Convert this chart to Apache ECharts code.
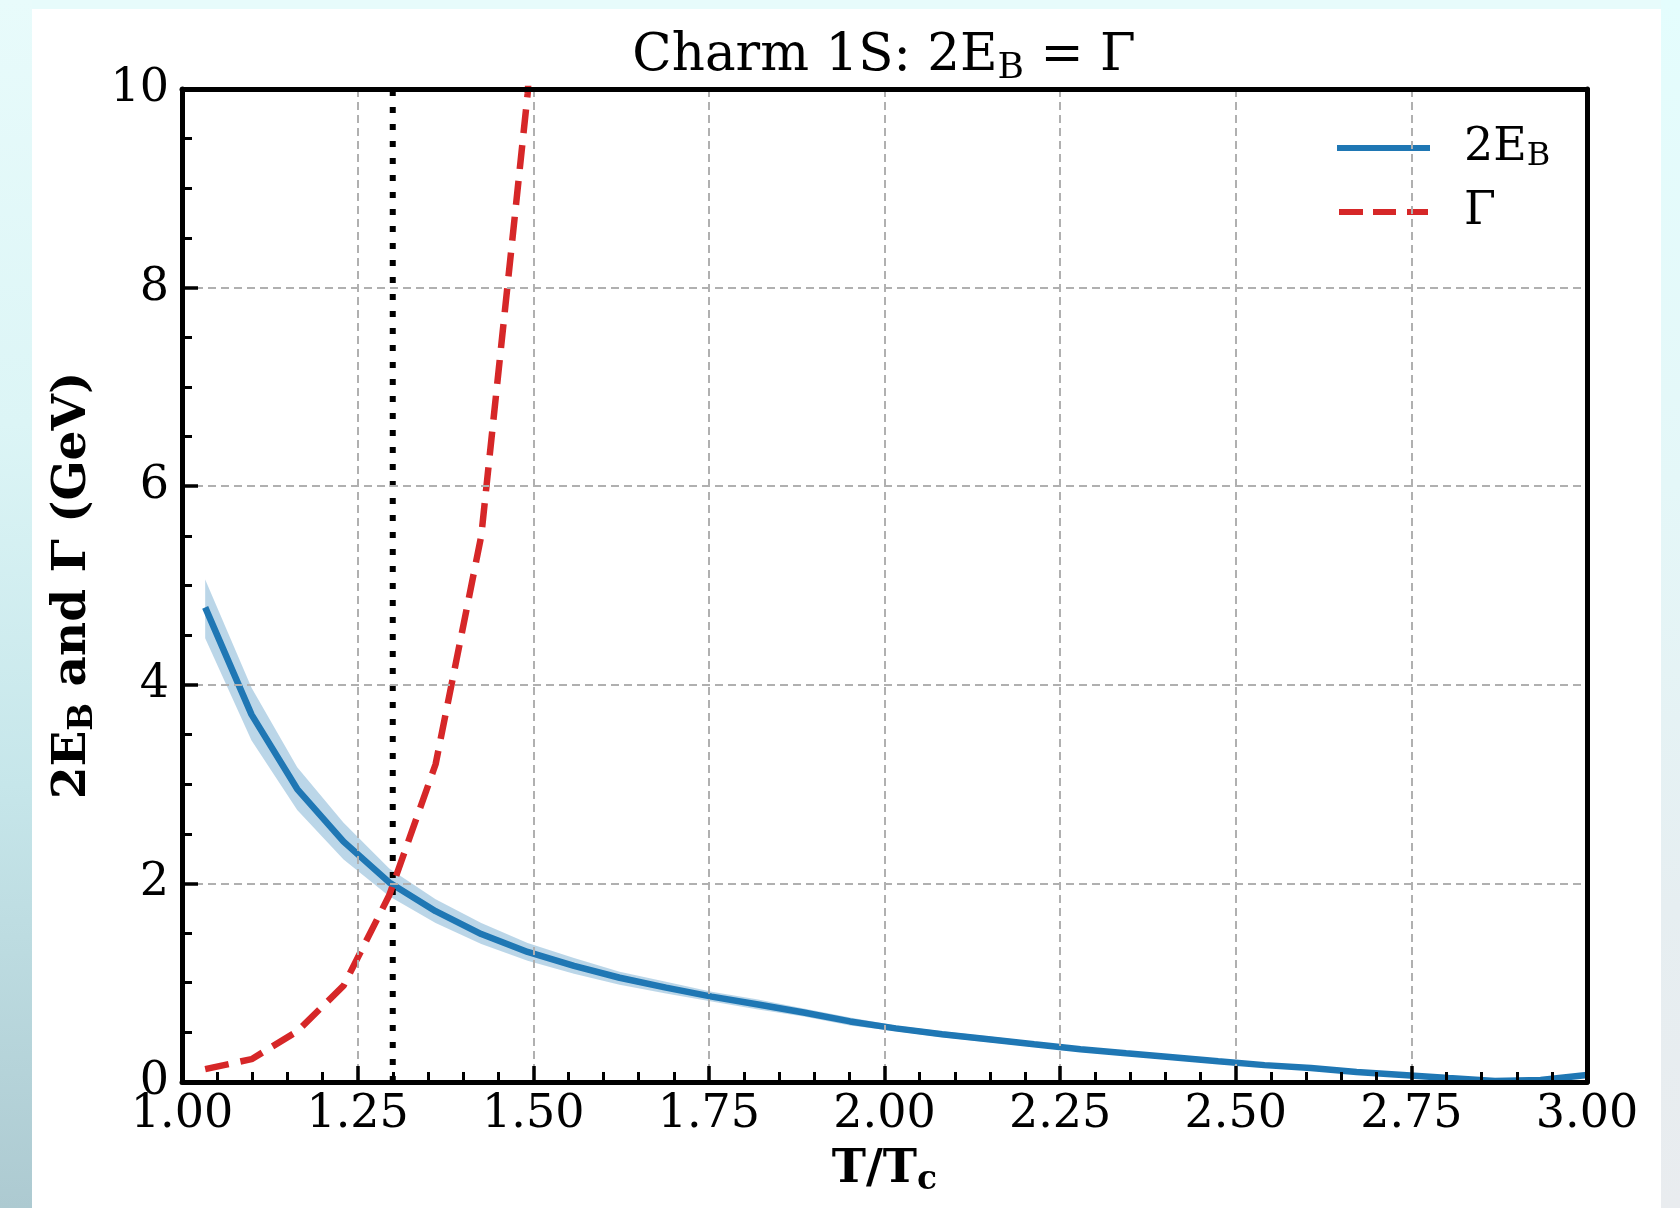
<!DOCTYPE html>
<html>
<head>
<meta charset="utf-8">
<script src="https://cdn.jsdelivr.net/npm/echarts@6/dist/echarts.min.js"></script>
<style>
  html, body { margin: 0; padding: 0; width: 1680px; height: 1208px; overflow: hidden; }
  body { background: #e7fbfb; position: relative; }
  #leftStrip { position: absolute; left: 0; top: 0; width: 32px; height: 1208px;
    background: linear-gradient(to bottom, #e8fbfb 0%, #dcf5f6 35%, #c6e6ea 65%, #adcad1 100%); }
  #rightStrip { position: absolute; left: 1661px; top: 0; width: 19px; height: 1208px;
    background: linear-gradient(to bottom, #e4fdfd 0%, #e4f7f8 40%, #e6eef1 75%, #e9ecef 100%); }
  #card { position: absolute; left: 32px; top: 9px; width: 1629px; height: 1199px; background: #ffffff; }
  #chart { position: absolute; left: 0; top: 0; width: 1680px; height: 1208px; }
</style>
</head>
<body>
<div id="leftStrip"></div>
<div id="rightStrip"></div>
<div id="card"></div>
<div id="chart"></div>
<script>
// ---- data ----
const tValues = [1.033, 1.099, 1.164, 1.230, 1.295, 1.361, 1.426, 1.492, 1.558, 1.623,
                 1.689, 1.754, 1.820, 1.885, 1.951, 2.016, 2.082, 2.148, 2.213, 2.279,
                 2.344, 2.410, 2.475, 2.541, 2.607, 2.672, 2.738, 2.803, 2.869, 2.934, 3.000];
const twoEB = [4.78, 3.70, 2.95, 2.42, 2.01, 1.72, 1.49, 1.31, 1.17, 1.05,
               0.95, 0.86, 0.78, 0.70, 0.61, 0.54, 0.48, 0.43, 0.38, 0.33,
               0.29, 0.25, 0.21, 0.17, 0.14, 0.10, 0.07, 0.04, 0.01, 0.02, 0.07];
const twoEBLower = [4.47, 3.44, 2.74, 2.24, 1.87, 1.60, 1.39, 1.22, 1.09, 0.98,
                    0.89, 0.81, 0.73, 0.66, 0.57, 0.51, 0.45, 0.40, 0.355, 0.31,
                    0.27, 0.23, 0.19, 0.155, 0.125, 0.085, 0.055, 0.025, -0.005, 0.005, 0.05];
const twoEBUpper = [5.06, 3.97, 3.17, 2.61, 2.15, 1.84, 1.60, 1.40, 1.25, 1.11,
                    1.01, 0.91, 0.83, 0.74, 0.65, 0.57, 0.51, 0.46, 0.405, 0.35,
                    0.31, 0.27, 0.23, 0.185, 0.155, 0.115, 0.085, 0.055, 0.025, 0.035, 0.09];
const gammaValues = [0.13, 0.23, 0.51, 0.97, 1.88, 3.2, 5.5, 9.95, 17.5];
const tDiss = 1.30;
const xTicks = { min: 1.0, max: 3.0, interval: 0.25 };
const yTicks = { min: 0, max: 10, interval: 2 };

const FONT = 'DejaVu Serif';
const BLUE = '#1f77b4';
const RED = '#d62728';

const blueData = tValues.map((t, i) => [t, twoEB[i]]);
const redData = gammaValues.map((g, i) => [tValues[i], g]);

const chart = echarts.init(document.getElementById('chart'), null, { renderer: 'canvas' });

const gridLine = { show: true, lineStyle: { color: '#b0b0b0', width: 2, type: [8, 5] } };

function renderBand(params, api) {
  const pts = [];
  for (let i = 0; i < tValues.length; i++) pts.push(api.coord([tValues[i], twoEBUpper[i]]));
  for (let i = tValues.length - 1; i >= 0; i--) pts.push(api.coord([tValues[i], twoEBLower[i]]));
  return {
    type: 'polygon',
    shape: { points: pts },
    style: { fill: 'rgba(31,119,180,0.3)', stroke: null }
  };
}

chart.setOption({
  backgroundColor: 'transparent',
  animation: false,
  title: {
    text: 'Charm 1S: 2E{s|B} = Γ',
    left: 884, top: 27, padding: 0, textAlign: 'center',
    textStyle: {
      fontFamily: FONT, fontSize: 51.5, fontWeight: 'normal', color: '#000', lineHeight: 60,
      rich: { s: { fontFamily: FONT, fontSize: 36, lineHeight: 30, verticalAlign: 'bottom', color: '#000' } }
    }
  },
  legend: {
    data: [
      { name: '2E_B', icon: 'path://M0,0H93V6H0Z' },
      { name: 'Γ', icon: 'path://M2,0H26V6H2Z M36,0H59V6H36Z M70,0H91V6H70Z' }
    ],
    orient: 'vertical', left: 1337, top: 123, padding: 0,
    itemWidth: 93, itemHeight: 6, itemGap: 14,
    formatter: n => n === '2E_B' ? '2E{s|B}' : 'Γ',
    textStyle: {
      fontFamily: FONT, fontSize: 46, color: '#000', lineHeight: 50, padding: [0, 0, 0, 29],
      rich: { s: { fontFamily: FONT, fontSize: 32, lineHeight: 30, verticalAlign: 'bottom', color: '#000' } }
    }
  },
  grid: { left: 182, right: 93, top: 89, bottom: 126, containLabel: false },
  xAxis: [{
    type: 'value', min: xTicks.min, max: xTicks.max, interval: xTicks.interval,
    z: 10,
    name: 'T/T{s|c}', nameLocation: 'middle', nameGap: 61,
    nameTextStyle: {
      fontFamily: FONT, fontSize: 46, fontWeight: 'bold', color: '#000', lineHeight: 54,
      rich: { s: { fontFamily: FONT, fontSize: 33, fontWeight: 'bold', lineHeight: 32, verticalAlign: 'bottom', color: '#000' } }
    },
    axisLine: { show: true, onZero: false, lineStyle: { color: '#000', width: 5 } },
    axisTick: { show: true, inside: true, length: 16, lineStyle: { color: '#000', width: 3.5 } },
    minorTick: { show: true, splitNumber: 5, length: 10, lineStyle: { color: '#000', width: 3 } },
    axisLabel: { fontFamily: FONT, fontSize: 46, color: '#000', margin: 10,
      formatter: v => v.toFixed(2) },
    splitLine: gridLine,
    minorSplitLine: { show: false }
  }, {
    type: 'value', position: 'top', min: xTicks.min, max: xTicks.max, z: 10,
    axisLine: { show: true, onZero: false, lineStyle: { color: '#000', width: 5 } },
    axisTick: { show: false }, axisLabel: { show: false }, splitLine: { show: false }
  }],
  yAxis: [{
    type: 'value', min: yTicks.min, max: yTicks.max, interval: yTicks.interval,
    z: 10,
    name: '{b|2E}{s|B}{b| and Γ (GeV)}', nameLocation: 'middle', nameGap: 79,
    nameTextStyle: {
      fontFamily: FONT, fontSize: 47, fontWeight: 'bold', color: '#000',
      rich: {
        b: { fontFamily: FONT, fontSize: 47, fontWeight: 'bold', lineHeight: 54, color: '#000' },
        s: { fontFamily: FONT, fontSize: 33, fontWeight: 'bold', lineHeight: 32, verticalAlign: 'bottom', color: '#000' }
      }
    },
    axisLine: { show: true, onZero: false, lineStyle: { color: '#000', width: 5 } },
    axisTick: { show: true, inside: true, length: 16, lineStyle: { color: '#000', width: 3.5 } },
    minorTick: { show: true, splitNumber: 4, length: 10, lineStyle: { color: '#000', width: 3 } },
    axisLabel: { fontFamily: FONT, fontSize: 46, color: '#000', margin: 13 },
    splitLine: gridLine
  }, {
    type: 'value', position: 'right', min: yTicks.min, max: yTicks.max, z: 10,
    axisLine: { show: true, onZero: false, lineStyle: { color: '#000', width: 5 } },
    axisTick: { show: false }, axisLabel: { show: false }, splitLine: { show: false }
  }],
  series: [
    {
      name: 'band', type: 'custom', coordinateSystem: 'cartesian2d',
      xAxisIndex: 0, yAxisIndex: 0,
      data: [[tValues[0], twoEBUpper[0]]], renderItem: renderBand, clip: true, silent: true, z: 1
    },
    {
      name: '2E_B', type: 'line', data: blueData, symbol: 'none', showSymbol: false,
      lineStyle: { color: BLUE, width: 6.5 }, itemStyle: { color: BLUE }, z: 3
    },
    {
      name: 'Tdiss', type: 'line', data: [[tDiss, yTicks.min], [tDiss, yTicks.max]], symbol: 'none',
      lineStyle: { color: '#000', width: 6, type: [6, 11], cap: 'butt' }, z: 4
    },
    {
      name: 'Γ', type: 'line', data: redData, symbol: 'none', showSymbol: false,
      lineStyle: { color: RED, width: 6.5, type: [24, 12] }, itemStyle: { color: RED }, z: 5
    }
  ]
});
</script>
</body>
</html>
